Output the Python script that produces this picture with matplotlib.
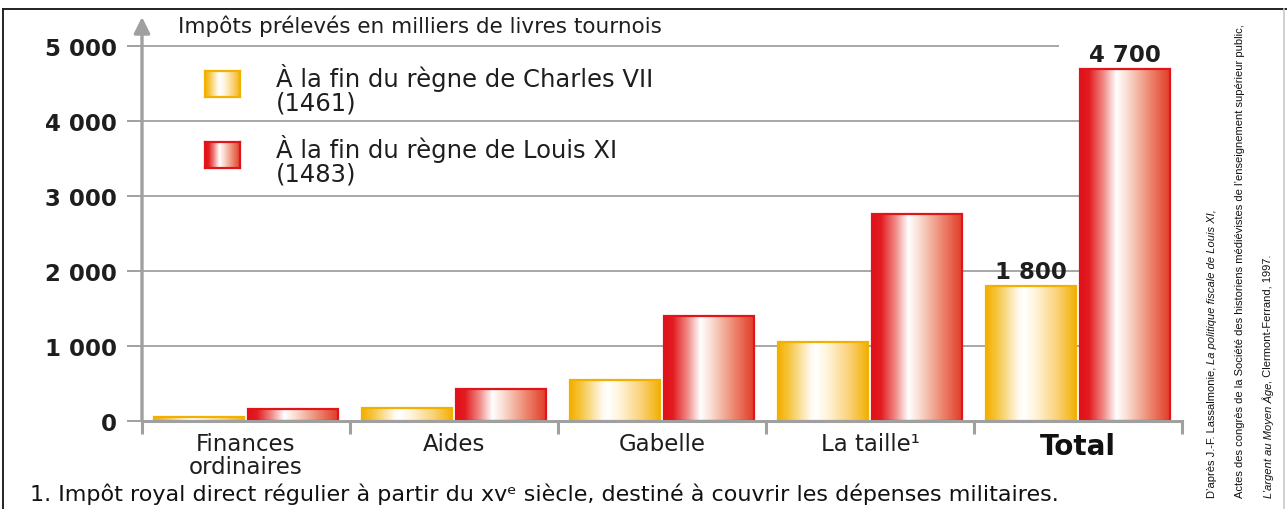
import numpy as np
import matplotlib
matplotlib.use("Agg")
import matplotlib.pyplot as plt
from matplotlib.colors import LinearSegmentedColormap
from matplotlib.lines import Line2D
from matplotlib.text import Annotation

# ---------------- data ----------------
categories = ["Finances\nordinaires", "Aides", "Gabelle", "La taille\u00b9", "Total"]
charles_vii_1461 = [60, 175, 550, 1060, 1800]
louis_xi_1483 = [160, 430, 1400, 2760, 4700]
value_labels_charles = ["", "", "", "", "1 800"]
value_labels_louis = ["", "", "", "", "4 700"]
yticks = [0, 1000, 2000, 3000, 4000, 5000]
ytick_labels = ["0", "1 000", "2 000", "3 000", "4 000", "5 000"]
legend_labels = ["\u00c0 la fin du r\u00e8gne de Charles VII\n(1461)",
                 "\u00c0 la fin du r\u00e8gne de Louis XI\n(1483)"]
title = "Imp\u00f4ts pr\u00e9lev\u00e9s en milliers de livres tournois"
footnote = ("1. Imp\u00f4t royal direct r\u00e9gulier \u00e0 partir du xv\u1d49 si\u00e8cle, "
            "destin\u00e9 \u00e0 couvrir les d\u00e9penses militaires.")
source_lines = [
    ("D\u2019apr\u00e8s J.-F. Lassalmonie, ", "La politique fiscale de Louis XI,", "normal_first"),
    ("Actes des congr\u00e8s de la Soci\u00e9t\u00e9 des historiens m\u00e9di\u00e9vistes de "
     "l\u2019enseignement sup\u00e9rieur public,", "", "normal_first"),
    ("L\u2019argent au Moyen \u00c2ge", ", Clermont-Ferrand, 1997.", "italic_first"),
]

# ---------------- style ----------------
W, H = 1287, 510
plt.rcParams["font.family"] = ["DejaVu Sans"]
GRAY = "#a0a0a0"
YEL_EDGE = "#f2b100"
RED_EDGE = "#e0151b"
TXT = "#1e1e1e"
ycmap = LinearSegmentedColormap.from_list("y", [
    (0.0, "#f3b000"), (0.12, "#f6c540"), (0.36, "#fffaf0"), (0.42, "#ffffff"),
    (0.55, "#fff3d8"), (0.78, "#fad27a"), (1.0, "#f3b000")])
rcmap = LinearSegmentedColormap.from_list("r", [
    (0.0, "#e0101a"), (0.1, "#e31d22"), (0.25, "#ef8580"), (0.4, "#ffffff"),
    (0.5, "#fbe3da"), (0.7, "#f0a08a"), (0.9, "#e75a44"), (1.0, "#e23a28")])


def fx(px):
    return px / W


def fy(py):
    return 1 - py / H


fig = plt.figure(figsize=(W / 100, H / 100), dpi=100)
fig.patch.set_facecolor("white")

y_top_px = 18
ymax = (422 - y_top_px) / 75 * 1000
ax = fig.add_axes([fx(142), fy(422), (1182 - 142) / W, (422 - y_top_px) / H])

x = np.arange(len(categories))
off, bw = 0.228, 0.433
b1 = ax.bar(x - off, charles_vii_1461, bw, facecolor="none", edgecolor=YEL_EDGE, lw=1.6, zorder=4)
b2 = ax.bar(x + off, louis_xi_1483, bw, facecolor="none", edgecolor=RED_EDGE, lw=1.6, zorder=4)
grad = np.linspace(0, 1, 256).reshape(1, -1)
for bars, cm in ((b1, ycmap), (b2, rcmap)):
    for p in bars:
        x0, ww, hh = p.get_x(), p.get_width(), p.get_height()
        ax.imshow(grad, extent=(x0, x0 + ww, 0, hh), aspect="auto", cmap=cm,
                  zorder=3, interpolation="bilinear")

# gridlines
for v in yticks[1:]:
    xend = 3.91 if v == yticks[-1] else 4.05
    ax.hlines(v, -0.5, xend, color=GRAY, lw=1.3, zorder=1)

ax.set_xlim(-0.5, 4.5)
ax.set_ylim(0, ymax)

for s in ("top", "right", "left"):
    ax.spines[s].set_visible(False)
ax.spines["bottom"].set_color(GRAY)
ax.spines["bottom"].set_linewidth(2.2)
ax.spines["bottom"].set_zorder(5)

# y axis with arrow head
ax.annotate("", xy=(0, 1), xytext=(0, 0), xycoords="axes fraction",
            arrowprops=dict(arrowstyle="-|>", color=GRAY, lw=2.4, mutation_scale=24,
                            shrinkA=0, shrinkB=0), zorder=6)

ax.set_yticks(yticks, ytick_labels)
ax.tick_params(axis="y", length=11, width=1.4, color=GRAY, pad=7, labelsize=16.5,
               labelcolor=TXT)
for t in ax.get_yticklabels():
    t.set_fontweight("bold")

ax.set_xticks(x, categories)
ax.set_xticks(np.arange(-0.5, len(categories), 1), minor=True)
ax.tick_params(axis="x", which="major", length=0, pad=8, labelsize=16.5, labelcolor=TXT)
ax.tick_params(axis="x", which="minor", length=9, width=2.2, color=GRAY)
tl = ax.get_xticklabels()
for t in tl:
    t.set_linespacing(1.0)
tl[-1].set_fontweight("bold")
tl[-1].set_fontsize(20)
tl[-1].set_color("#111111")

ax.bar_label(b1, labels=value_labels_charles, padding=2, fontsize=16.5, fontweight="bold", color=TXT)
ax.bar_label(b2, labels=value_labels_louis, padding=2, fontsize=16.5, fontweight="bold", color=TXT)

# title
fig.text(fx(178), fy(26), title, va="center", ha="left", fontsize=15.5, color=TXT)

# legend
for (top, bot, cm, edge, lab) in ((72, 98, ycmap, YEL_EDGE, legend_labels[0]),
                                  (143, 169, rcmap, RED_EDGE, legend_labels[1])):
    lax = fig.add_axes([fx(205), fy(bot), 35 / W, (bot - top) / H])
    lax.imshow(grad, aspect="auto", cmap=cm, interpolation="bilinear")
    lax.set_xticks([])
    lax.set_yticks([])
    for s in lax.spines.values():
        s.set_color(edge)
        s.set_linewidth(1.6)
    fig.text(fx(276), fy(top - 8), lab, va="top", ha="left", fontsize=17.5,
             linespacing=0.98, color=TXT)

# footnote
fig.text(fx(30), fy(494), footnote, va="center", ha="left", fontsize=16, color="#111111")

# rotated source (narrower family)
narrow = ["Liberation Sans", "DejaVu Sans"]
fs_src = 8.0
for (a, b, order), xc in zip(source_lines, (1212, 1240, 1268)):
    st1 = "normal" if order == "normal_first" else "italic"
    st2 = "italic" if order == "normal_first" else "normal"
    t1 = fig.text(fx(xc), fy(498), a, rotation=90, ha="center", va="bottom",
                  fontsize=fs_src, family=narrow, style=st1, color="#111111")
    if b:
        fig.add_artist(Annotation(b, xy=(0.5, 1.0), xycoords=t1, ha="center", va="bottom",
                                  rotation=90, fontsize=fs_src, family=narrow, style=st2,
                                  color="#111111"))

# page border
fig.add_artist(Line2D([fx(3), 1], [fy(10), fy(10)], color="#222222", lw=1.4, transform=fig.transFigure))
fig.add_artist(Line2D([fx(3), fx(3)], [0, fy(10)], color="#222222", lw=1.4, transform=fig.transFigure))
fig.add_artist(Line2D([fx(1284), fx(1284)], [0, fy(10)], color="#c8c8c8", lw=1.2, transform=fig.transFigure))

fig.savefig("out.png", dpi=100, facecolor="white")
